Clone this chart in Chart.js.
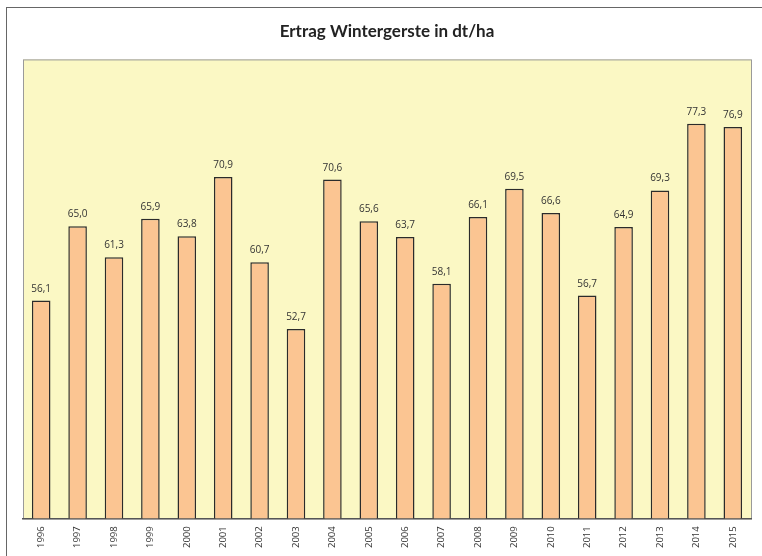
<!DOCTYPE html>
<html>
<head>
<meta charset="utf-8">
<script src="https://cdn.jsdelivr.net/npm/chart.js@4"></script>
<style>
  body { margin: 0; background: #fff; }
  #frame { position: absolute; left: 6px; top: 7px; width: 800px; height: 600px; border: 1px solid #666; }
  #wrap { position: absolute; left: 0; top: 0; width: 762px; height: 556px; }
</style>
</head>
<body>
<div id="frame"></div>
<div id="wrap"><canvas id="myChart" width="762" height="556"></canvas></div>
<script>
var years = ["1996", "1997", "1998", "1999", "2000", "2001", "2002", "2003", "2004", "2005",
             "2006", "2007", "2008", "2009", "2010", "2011", "2012", "2013", "2014", "2015"];
var ertrag = [56.1, 65.0, 61.3, 65.9, 63.8, 70.9, 60.7, 52.7, 70.6, 65.6,
              63.7, 58.1, 66.1, 69.5, 66.6, 56.7, 64.9, 69.3, 77.3, 76.9];

// yellow plot area with grey border
var plotArea = {
    id: "plotArea",
    beforeDraw: function (chart) {
        var a = chart.chartArea, c = chart.ctx;
        c.save();
        c.fillStyle = "#fbf8c4";
        c.fillRect(a.left, a.top, a.right - a.left, a.bottom - a.top);
        c.strokeStyle = "#9a9a9a";
        c.lineWidth = 1;
        c.strokeRect(a.left + 0.5, a.top + 0.5, a.right - a.left, a.bottom - a.top);
        c.restore();
    }
};

// value labels above the bars
var valueLabels = {
    id: "valueLabels",
    afterDatasetsDraw: function (chart) {
        var c = chart.ctx;
        var meta = chart.getDatasetMeta(0);
        c.save();
        c.font = "10px 'Open Sans', sans-serif";
        c.fillStyle = "#333";
        c.textAlign = "center";
        c.textBaseline = "alphabetic";
        meta.data.forEach(function (bar, i) {
            var txt = ertrag[i].toFixed(1).replace(".", ",");
            c.fillText(txt, bar.x, bar.y - 9);
        });
        c.restore();
    }
};

var ctx = document.getElementById("myChart");
var myChart = new Chart(ctx, {
    type: "bar",
    data: {
        labels: years,
        datasets: [
            {
                label: "Ertrag",
                data: ertrag,
                backgroundColor: "#fbc592",
                borderColor: "#2b2b2b",
                borderWidth: 1.5,
                categoryPercentage: 1,
                barPercentage: 0.51
            }
        ]
    },
    options: {
        responsive: false,
        animation: false,
        layout: { padding: { left: 23, right: 11, top: 0, bottom: 0 } },
        plugins: {
            legend: { display: false },
            tooltip: { enabled: false },
            title: {
                display: true,
                text: "Ertrag Wintergerste in dt/ha",
                color: "#222",
                font: { family: "Lato", size: 17, weight: "bold" },
                padding: { top: 21, bottom: 18 }
            }
        },
        scales: {
            x: {
                grid: { display: false, drawTicks: false },
                border: { display: true, color: "#555", width: 1.5 },
                ticks: {
                    color: "#333",
                    font: { family: "'Open Sans'", size: 9.5 },
                    minRotation: 90,
                    maxRotation: 90,
                    autoSkip: false,
                    padding: 8
                }
            },
            y: {
                display: false,
                min: 30,
                max: 85
            }
        }
    },
    plugins: [plotArea, valueLabels]
});
</script>
</body>
</html>
